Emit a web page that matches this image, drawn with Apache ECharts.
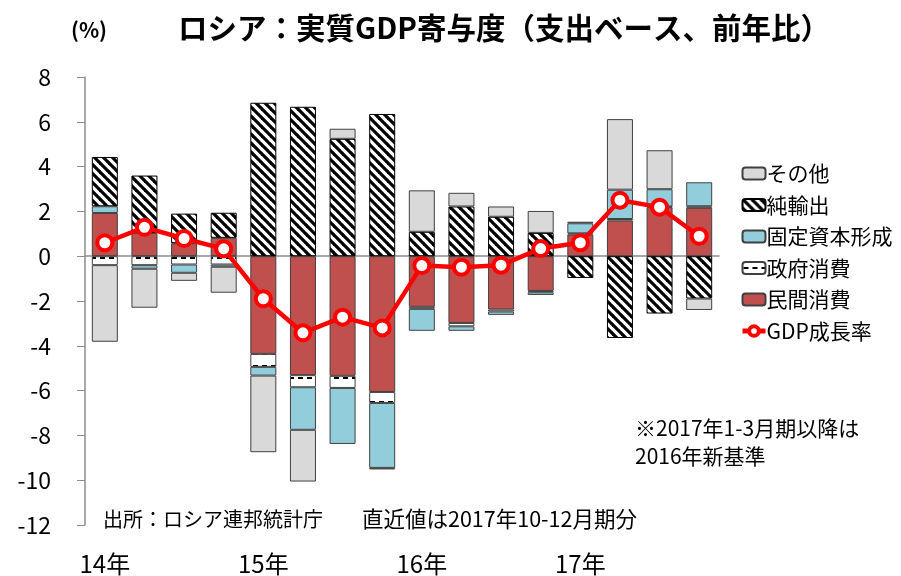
<!DOCTYPE html>
<html>
<head>
<meta charset="utf-8">
<script src="https://cdn.jsdelivr.net/npm/echarts@6/dist/echarts.min.js"></script>
<style>
    html, body { margin: 0; padding: 0; background: #fff; }
    #gdpChart { width: 901px; height: 576px; }
</style>
</head>
<body>
<div id="gdpChart"></div>
<script>
// 2014Q1 - 2017Q4
let quarters = ['14/1Q', '14/2Q', '14/3Q', '14/4Q', '15/1Q', '15/2Q', '15/3Q', '15/4Q',
    '16/1Q', '16/2Q', '16/3Q', '16/4Q', '17/1Q', '17/2Q', '17/3Q', '17/4Q'];
let yearTicks = ['14年', '15年', '16年', '17年'];
let yTicks = [-12, -10, -8, -6, -4, -2, 0, 2, 4, 6, 8];

let privateCons = [1.93, 1.04, 0.58, 0.82, -4.36, -5.31, -5.34, -6.06, -2.26, -2.98, -2.38, -1.55, 0.97, 1.59, 2.19, 2.16];
let govCons = [-0.40, -0.40, -0.37, -0.37, -0.58, -0.54, -0.54, -0.49, -0.09, -0.15, -0.09, -0.06, 0.05, 0.07, 0.03, 0.07];
let fixedCap = [0.30, -0.16, -0.37, -0.10, -0.39, -1.90, -2.50, -2.90, -0.98, -0.20, -0.15, -0.12, 0.45, 1.31, 0.77, 1.07];
let netExports = [2.20, 2.56, 1.32, 1.12, 6.85, 6.67, 5.24, 6.35, 1.09, 2.22, 1.76, 1.04, -0.97, -3.65, -2.56, -1.89];
let others = [-3.42, -1.74, -0.36, -1.16, -3.42, -2.31, 0.45, -0.07, 1.85, 0.61, 0.46, 0.98, 0.07, 3.15, 1.74, -0.51];
let gdpGrowth = [0.60, 1.29, 0.79, 0.33, -1.90, -3.42, -2.72, -3.20, -0.42, -0.49, -0.40, 0.34, 0.60, 2.50, 2.19, 0.89];

let fontJp = '"Noto Sans CJK JP", "Noto Sans", sans-serif';

// 純輸出: black diagonal stripes
function makeHatch() {
    let s = 9;
    let c = document.createElement('canvas');
    c.width = s;
    c.height = s;
    let ctx = c.getContext('2d');
    ctx.fillStyle = '#fff';
    ctx.fillRect(0, 0, s, s);
    ctx.strokeStyle = '#000';
    ctx.lineWidth = 3.2;
    for (let k = -1; k <= 1; k++) {
        ctx.beginPath();
        ctx.moveTo(k * s - 1, -1);
        ctx.lineTo(k * s + s + 1, s + 1);
        ctx.stroke();
    }
    return c;
}

// 政府消費: white with horizontal dashes
function makeDash() {
    let c = document.createElement('canvas');
    c.width = 9;
    c.height = 12;
    let ctx = c.getContext('2d');
    ctx.fillStyle = '#fff';
    ctx.fillRect(0, 0, 9, 12);
    ctx.fillStyle = '#000';
    ctx.fillRect(1, 5, 5, 2);
    return c;
}

let gdpChart = echarts.init(document.getElementById('gdpChart'));

function barSeries(name, data, color, border) {
    return {
        name: name,
        type: 'bar',
        stack: 'total',
        data: data,
        barWidth: 26,
        itemStyle: {
            color: color,
            borderColor: border || '#404040',
            borderWidth: 1
        }
    };
}

let option = {
    animation: false,
    textStyle: {fontFamily: fontJp},
    grid: {
        left: 85,
        right: 182,
        top: 77,
        bottom: 51
    },
    legend: {
        orient: 'vertical',
        left: 740,
        top: 163,
        padding: 0,
        itemWidth: 23,
        itemHeight: 12,
        itemGap: 10.5,
        textStyle: {fontSize: 21, color: '#000', fontFamily: fontJp, padding: [0, 0, 0, -4]},
        data: ['その他', '純輸出', '固定資本形成', '政府消費', '民間消費',
            {name: 'GDP成長率', itemStyle: {borderWidth: 4}, lineStyle: {width: 5}}]
    },
    xAxis: [
        {
            type: 'category',
            data: quarters,
            axisLine: {onZero: true, lineStyle: {color: '#8c8c8c', width: 1.5}},
            axisTick: {interval: 3, length: 7, lineStyle: {color: '#8c8c8c'}},
            axisLabel: {show: false}
        },
        {
            type: 'category',
            data: quarters,
            position: 'bottom',
            axisLine: {show: false},
            axisTick: {show: false},
            axisLabel: {
                interval: 0,
                margin: 27,
                fontSize: 24,
                color: '#000',
                fontFamily: fontJp,
                formatter: function (v, i) {
                    return i % 4 === 0 ? yearTicks[i / 4] : '';
                }
            }
        }
    ],
    yAxis: {
        type: 'value',
        min: yTicks[0],
        max: yTicks[yTicks.length - 1],
        interval: 2,
        splitLine: {show: false},
        axisLine: {show: true, lineStyle: {color: '#8c8c8c', width: 1.5}},
        axisTick: {show: true, length: 8, lineStyle: {color: '#8c8c8c'}},
        axisLabel: {fontSize: 23, color: '#000', margin: 34, fontFamily: fontJp}
    },
    series: [
        barSeries('民間消費', privateCons, '#c0504d'),
        barSeries('政府消費', govCons, {image: makeDash(), repeat: 'repeat'}),
        barSeries('固定資本形成', fixedCap, '#92cddc'),
        barSeries('純輸出', netExports, {image: makeHatch(), repeat: 'repeat'}, '#000'),
        barSeries('その他', others, '#d9d9d9'),
        {
            name: 'GDP成長率',
            type: 'line',
            data: gdpGrowth,
            z: 5,
            symbol: 'circle',
            symbolSize: 15,
            lineStyle: {color: '#ff0000', width: 4.5},
            itemStyle: {color: '#fff', borderColor: '#ff0000', borderWidth: 4}
        }
    ],
    graphic: [
        {
            type: 'text',
            x: 89,
            y: 30,
            style: {text: '(%)', font: 'bold 21px ' + fontJp, fill: '#000', align: 'center', verticalAlign: 'middle'}
        },
        {
            type: 'text',
            x: 504,
            y: 28,
            style: {
                text: 'ロシア：実質GDP寄与度（支出ベース、前年比）',
                font: 'bold 29.5px ' + fontJp,
                fill: '#000',
                align: 'center',
                verticalAlign: 'middle'
            }
        },
        {
            type: 'text',
            x: 103,
            y: 519,
            style: {
                text: '出所：ロシア連邦統計庁',
                font: '20px ' + fontJp,
                fill: '#000',
                verticalAlign: 'middle'
            }
        },
        {
            type: 'text',
            x: 362,
            y: 519,
            style: {
                text: '直近値は2017年10-12月期分',
                font: '21.5px ' + fontJp,
                fill: '#000',
                verticalAlign: 'middle'
            }
        },
        {
            type: 'text',
            x: 635,
            y: 428,
            style: {text: '※2017年1-3月期以降は', font: '21px ' + fontJp, fill: '#000', verticalAlign: 'middle'}
        },
        {
            type: 'text',
            x: 635,
            y: 456,
            style: {text: '2016年新基準', font: '21px ' + fontJp, fill: '#000', verticalAlign: 'middle'}
        }
    ]
};

gdpChart.setOption(option);
</script>
</body>
</html>
